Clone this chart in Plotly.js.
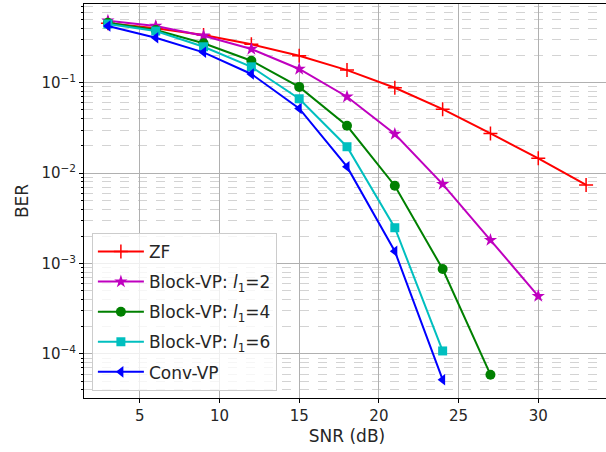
<!DOCTYPE html>
<html>
<head>
<meta charset="utf-8">
<script src="https://cdn.plot.ly/plotly-3.0.1.min.js"></script>
<style>
html,body{margin:0;padding:0;overflow:hidden;background:#fff;}
#chart{width:612px;height:452px;}
</style>
</head>
<body>
<div id="chart"></div>
<script>
// SNR (dB)
const snrZF = [3, 6, 9, 12, 15, 18, 21, 24, 27, 30, 33];
const berZF = [0.454, 0.40, 0.337, 0.266, 0.199, 0.138, 0.088, 0.051, 0.0275, 0.0146, 0.0074];

const snrB2 = [3, 6, 9, 12, 15, 18, 21, 24, 27, 30];
const berB2 = [0.485, 0.424, 0.331, 0.236, 0.142, 0.070, 0.0271, 0.00757, 0.00182, 0.000437];

const snrB4 = [3, 6, 9, 12, 15, 18, 21, 24, 27];
const berB4 = [0.461, 0.383, 0.273, 0.175, 0.090, 0.0334, 0.00726, 0.00087, 0.000059];

const snrB6 = [3, 6, 9, 12, 15, 18, 21, 24];
const berB6 = [0.446, 0.373, 0.250, 0.150, 0.0665, 0.0196, 0.00249, 0.000108];

const snrConv = [3, 6, 9, 12, 15, 18, 21, 24];
const berConv = [0.424, 0.315, 0.217, 0.125, 0.052, 0.0118, 0.00137, 0.000052];

const seriesNames = ['ZF', 'Block-VP: <i>l</i><sub>1</sub>=2', 'Block-VP: <i>l</i><sub>1</sub>=4', 'Block-VP: <i>l</i><sub>1</sub>=6', 'Conv-VP'];

const yTickVals = [1e-4, 1e-3, 1e-2, 1e-1];
const yTickText = ['10<sup>−4</sup>', '10<sup>−3</sup>', '10<sup>−2</sup>', '10<sup>−1</sup>'];
const xTickVals = [5, 10, 15, 20, 25, 30];

function tr(x, y, name, color, symbol, size, grp) {
  const m = {symbol: symbol, size: size, color: color};
  if (symbol === 'cross-thin') m.line = {color: color, width: 1.5};
  else m.line = {width: 0};
  return {x: x, y: y, name: name, type: 'scatter', mode: 'lines+markers',
    line: {color: color, width: 2}, marker: m, legendgroup: grp};
}

const data = [
  tr(snrZF, berZF, seriesNames[0], '#ff0000', 'cross-thin', 10, 'a'),
  tr(snrB2, berB2, seriesNames[1], '#bf00bf', 'star', 10, 'b'),
  tr(snrB4, berB4, seriesNames[2], '#008000', 'circle', 10, 'c'),
  tr(snrB6, berB6, seriesNames[3], '#00bfbf', 'square', 9, 'd'),
  tr(snrConv, berConv, seriesNames[4], '#0000ff', 'triangle-left', 10, 'e')
];

const layout = {
  width: 612, height: 452,
  margin: {l: 84, r: 2, t: 4, b: 54},
  paper_bgcolor: '#ffffff', plot_bgcolor: '#ffffff',
  font: {family: 'DejaVu Sans', size: 15, color: '#262626'},
  xaxis: {
    range: [1.5, 34.5], tickvals: xTickVals,
    showgrid: true, gridcolor: '#b0b0b0', gridwidth: 1,
    zeroline: false, showline: true, linecolor: '#000', linewidth: 1, mirror: true,
    ticks: 'outside', ticklen: 4, tickcolor: '#000',
    tickfont: {size: 15},
    title: {text: 'SNR (dB)', font: {size: 17}, standoff: 6}
  },
  yaxis: {
    type: 'log', range: [-4.487, -0.129],
    tickvals: yTickVals, ticktext: yTickText,
    showgrid: true, gridcolor: '#b0b0b0', gridwidth: 1,
    zeroline: false, showline: true, linecolor: '#000', linewidth: 1, mirror: true,
    ticks: 'outside', ticklen: 4, tickcolor: '#000',
    tickfont: {size: 15},
    minor: {dtick: 'D1', showgrid: true, griddash: 'dash', gridcolor: '#d3d3d3', gridwidth: 1,
            ticks: 'outside', ticklen: 2, tickcolor: '#000'},
    title: {text: 'BER', font: {size: 17}, standoff: 8}
  },
  showlegend: true,
  legend: {
    x: 0.015, y: 0.419, xanchor: 'left', yanchor: 'top',
    bgcolor: 'rgba(255,255,255,0.8)', bordercolor: '#cccccc', borderwidth: 1,
    font: {size: 17, color: '#262626'}, tracegroupgap: 5, itemwidth: 46
  }
};

Plotly.newPlot('chart', data, layout, {displayModeBar: false, staticPlot: true});
</script>
</body>
</html>
